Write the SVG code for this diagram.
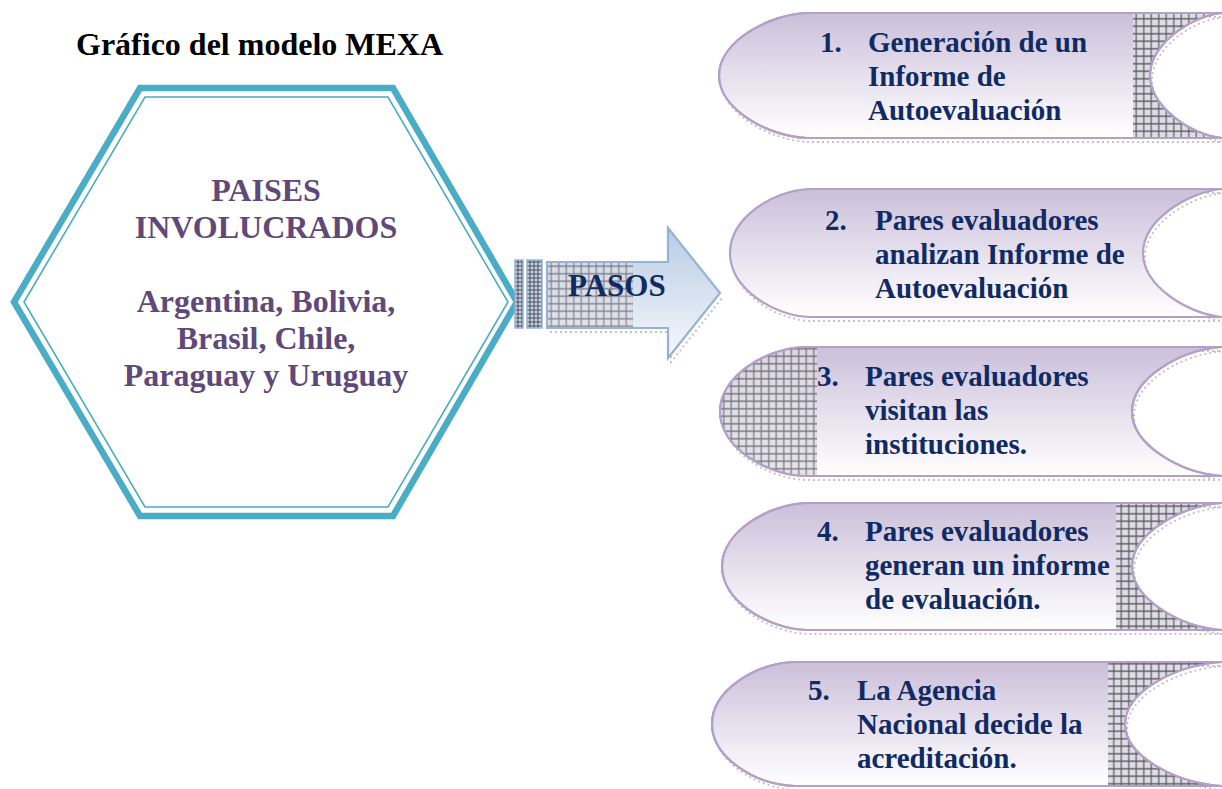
<svg xmlns="http://www.w3.org/2000/svg" width="1222" height="789" viewBox="0 0 1222 789">
<style>
  .title{font-family:"Liberation Serif","Times New Roman",serif;font-weight:bold;font-size:32px;fill:#000}
  .hex{font-family:"Liberation Serif","Times New Roman",serif;font-weight:bold;font-size:32px;fill:#5F497A;text-anchor:middle}
  .step{font-family:"Liberation Serif","Times New Roman",serif;font-weight:bold;font-size:29px;fill:#102A63}
  .shape{fill:url(#lav);stroke:#B2A1C7;stroke-width:2.2}
  .shadow{fill:none;stroke:#8a8a8a;stroke-width:2;stroke-dasharray:2 3;opacity:.5}
  .outline{fill:none;stroke:#B2A1C7;stroke-width:2.2}
</style>
<defs>
  <linearGradient id="lav" x1="0" y1="0" x2="0" y2="1">
    <stop offset="0" stop-color="#CBBFDA"/>
    <stop offset="0.55" stop-color="#E8E3EF"/>
    <stop offset="1" stop-color="#FFFFFF"/>
  </linearGradient>
  <linearGradient id="blu" x1="0" y1="0" x2="0" y2="1">
    <stop offset="0" stop-color="#B9CCE4"/>
    <stop offset="0.6" stop-color="#DCE6F2"/>
    <stop offset="1" stop-color="#F8FAFD"/>
  </linearGradient>
  <pattern id="grid" patternUnits="userSpaceOnUse" width="7.5" height="7.5">
    <rect width="7.5" height="7.5" fill="#DEDDE3"/>
    <path d="M3.75 0V7.5M0 3.75H7.5" stroke="#5a5a66" stroke-width="1.2"/>
  </pattern>
  <pattern id="gridS" patternUnits="userSpaceOnUse" width="4" height="4">
    <rect width="4" height="4" fill="#C8D2DE"/>
    <path d="M2 0V4M0 2H4" stroke="#3a4150" stroke-width="0.9"/>
  </pattern>
  <path id="s1" d="M807,13 L1222,13 C1190,16 1150,45 1150,75.5 C1150,106 1190,135 1222,138 L807,138 C770,137 719,110 719,75.5 C719,41 770,14 807,13 Z"/>
  <path id="s2" d="M810,189 L1222,189 C1188,192 1143,220 1143,253 C1143,286 1188,314 1222,317 L810,317 C773,316 730,288 730,253 C730,218 773,190 810,189 Z"/>
  <path id="s3" d="M805,347 L1222,347 C1180,350 1132,378 1132,411.5 C1132,445 1180,473 1222,476 L805,476 C766,475 720,447 720,411.5 C720,376 766,348 805,347 Z"/>
  <path id="s4" d="M807,503 L1222,503 C1180,506 1132,534 1132,566.5 C1132,599 1180,627 1222,630 L807,630 C768,629 722,601 722,566.5 C722,532 768,504 807,503 Z"/>
  <path id="s5" d="M795,662 L1222,662 C1175,665 1125,692 1125,724 C1125,756 1175,783 1222,786 L795,786 C756,785 712,758 712,724 C712,690 756,663 795,662 Z"/>
  <clipPath id="c1"><use href="#s1"/></clipPath>
  <clipPath id="c3"><use href="#s3"/></clipPath>
  <clipPath id="c4"><use href="#s4"/></clipPath>
  <clipPath id="c5"><use href="#s5"/></clipPath>
  <clipPath id="ca"><path d="M547,262 L668,262 L668,228 L720,293 L668,358 L668,328 L547,328 Z"/></clipPath>
</defs>

<rect width="1222" height="789" fill="#FFFFFF"/>

<text class="title" x="76" y="55">Gráfico del modelo MEXA</text>

<g id="paises">
  <polygon points="14,302 140,88 393,88 517,302 393,516 140,516" fill="#FFFFFF" stroke="#4BACC6" stroke-width="6.5" stroke-linejoin="miter"/>
  <polygon points="24,302 145,97 388,97 508,302 388,507 145,507" fill="none" stroke="#4BACC6" stroke-width="1.6"/>
  <text class="hex" x="266" y="201">PAISES</text>
  <text class="hex" x="266" y="238">INVOLUCRADOS</text>
  <text class="hex" x="266" y="312">Argentina, Bolivia,</text>
  <text class="hex" x="266" y="349">Brasil, Chile,</text>
  <text class="hex" x="266" y="386">Paraguay y Uruguay</text>
</g>

<g id="pasos">
  <rect x="515" y="260" width="8" height="68" fill="url(#gridS)" stroke="#95B3D7" stroke-width="1.5"/>
  <rect x="527" y="260" width="15" height="68" fill="url(#gridS)" stroke="#95B3D7" stroke-width="1.5"/>
  <path class="shadow" transform="translate(3,4)" d="M547,328 L668,328 L668,358 L720,293"/>
  <path d="M547,262 L668,262 L668,228 L720,293 L668,358 L668,328 L547,328 Z" fill="url(#blu)"/>
  <rect x="547" y="262" width="86" height="66" fill="url(#grid)" opacity="0.7" clip-path="url(#ca)"/>
  <path d="M547,262 L668,262 L668,228 L720,293 L668,358 L668,328 L547,328 Z" fill="none" stroke="#95B3D7" stroke-width="2.2"/>
  <text class="step" x="568" y="296" style="font-size:31px">PASOS</text>
</g>

<g id="step1">
  <use href="#s1" class="shadow" transform="translate(2,4)"/>
  <use href="#s1" class="shape"/>
  <rect x="1133" y="13" width="90" height="126" fill="url(#grid)" clip-path="url(#c1)"/>
  <use href="#s1" class="outline"/>
  <text class="step" x="820" y="52">1.</text>
  <text class="step" x="868" y="52">Generación de un</text>
  <text class="step" x="868" y="86">Informe de</text>
  <text class="step" x="868" y="120">Autoevaluación</text>
</g>

<g id="step2">
  <use href="#s2" class="shadow" transform="translate(2,4)"/>
  <use href="#s2" class="shape"/>
  <text class="step" x="825" y="230">2.</text>
  <text class="step" x="875" y="230">Pares evaluadores</text>
  <text class="step" x="875" y="264">analizan Informe de</text>
  <text class="step" x="875" y="298">Autoevaluación</text>
</g>

<g id="step3">
  <use href="#s3" class="shadow" transform="translate(2,4)"/>
  <use href="#s3" class="shape"/>
  <rect x="718" y="347" width="99" height="130" fill="url(#grid)" opacity="0.8" clip-path="url(#c3)"/>
  <use href="#s3" class="outline"/>
  <text class="step" x="817" y="386">3.</text>
  <text class="step" x="865" y="386">Pares evaluadores</text>
  <text class="step" x="865" y="420">visitan las</text>
  <text class="step" x="865" y="454">instituciones.</text>
</g>

<g id="step4">
  <use href="#s4" class="shadow" transform="translate(2,4)"/>
  <use href="#s4" class="shape"/>
  <rect x="1116" y="503" width="107" height="128" fill="url(#grid)" clip-path="url(#c4)"/>
  <use href="#s4" class="outline"/>
  <text class="step" x="817" y="541">4.</text>
  <text class="step" x="865" y="541">Pares evaluadores</text>
  <text class="step" x="865" y="575">generan un informe</text>
  <text class="step" x="865" y="609">de evaluación.</text>
</g>

<g id="step5">
  <use href="#s5" class="shadow" transform="translate(2,4)"/>
  <use href="#s5" class="shape"/>
  <rect x="1108" y="662" width="115" height="130" fill="url(#grid)" clip-path="url(#c5)"/>
  <use href="#s5" class="outline"/>
  <text class="step" x="808" y="700">5.</text>
  <text class="step" x="857" y="700">La Agencia</text>
  <text class="step" x="857" y="734">Nacional decide la</text>
  <text class="step" x="857" y="768">acreditación.</text>
</g>
</svg>
